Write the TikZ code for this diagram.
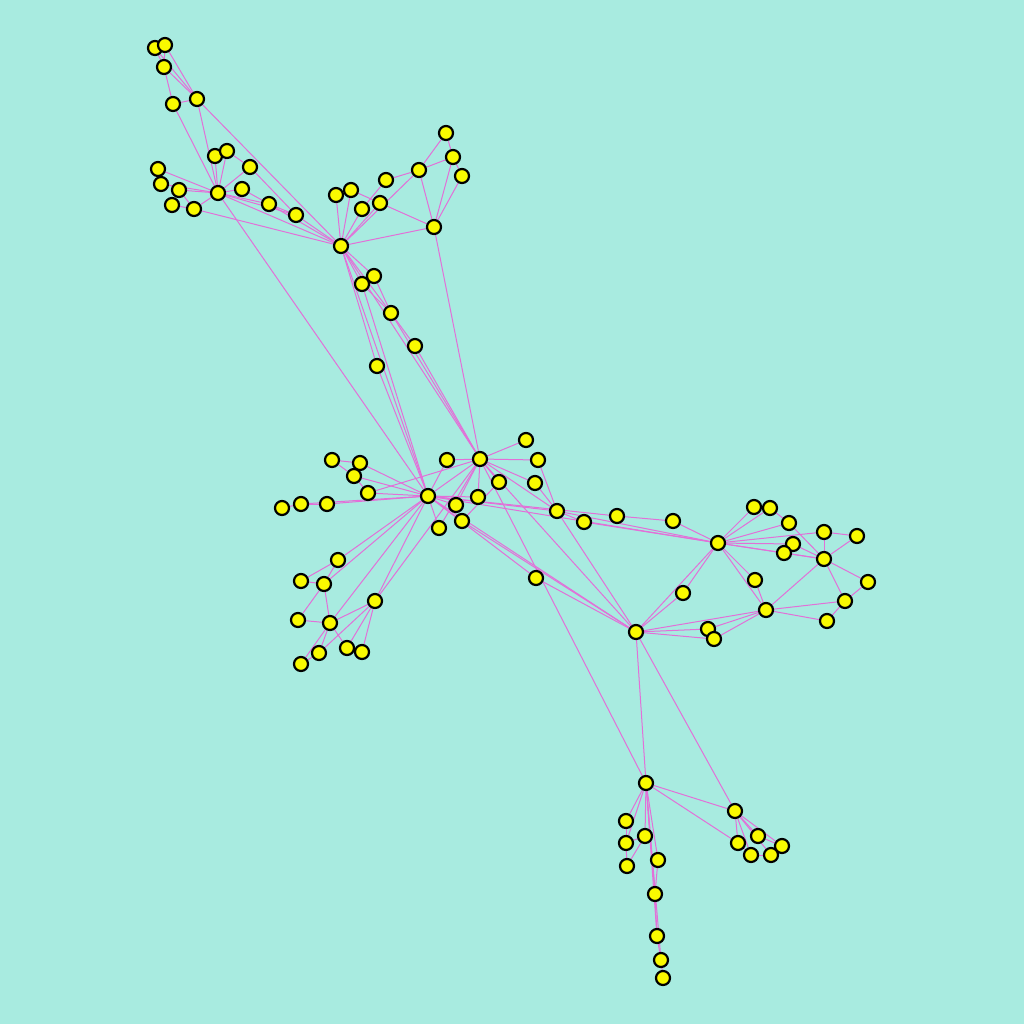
\documentclass[tikz,border=0pt]{standalone}
\usetikzlibrary{backgrounds}
\definecolor{bgc}{RGB}{168,235,224}
\definecolor{edgec}{RGB}{226,112,216}
\definecolor{nodec}{RGB}{250,250,0}
\begin{document}
\begin{tikzpicture}[x=0.5pt,y=-0.5pt,
  vtx/.style={circle,draw=black,line width=1.1pt,fill=nodec,minimum size=7pt,inner sep=0pt},
  edge/.style={draw=edgec,line width=0.5pt}]
\useasboundingbox (0,0) rectangle (1024,1024);
% nodes
\foreach \n/\x/\y in {
 n1/155/48, n2/165/45, n3/164/67, n4/173/104, n5/197/99,
 n6/215/156, n7/227/151, n8/250/167, n9/158/169, n10/161/184, n11/179/190, n12/218/193,
 n13/242/189, n14/172/205, n15/194/209, n16/269/204, n17/296/215,
 A/341/246, n18/336/195, n19/351/190, n20/362/209, n21/380/203, n22/386/180, n23/419/170,
 n24/446/133, n25/453/157, n26/462/176, n27/434/227,
 n28/374/276, n29/362/284, n30/391/313, n31/415/346, n32/377/366,
 B/428/496, C/480/459,
 n33/332/460, n34/360/463, n35/354/476, n36/368/493, n37/282/508, n38/301/504, n39/327/504,
 n40/447/460, n41/526/440, n42/538/460, n43/535/483, n44/499/482, n45/478/497, n46/456/505,
 n47/462/521, n48/439/528, n49/557/511, n50/584/522, n51/617/516, n52/673/521, n53/536/578,
 n54/338/560, n55/301/581, n56/324/584, n57/298/620, n58/330/623, n59/375/601, n60/319/653,
 n61/301/664, n62/347/648, n63/362/652,
 D/718/543, E/636/632,
 n64/754/507, n65/770/508, n66/789/523, n67/824/532, n68/857/536, n69/793/544, n70/784/553,
 n71/824/559, n72/755/580, n73/868/582, n74/683/593, n75/845/601, n76/766/610, n77/827/621,
 n78/708/629, n79/714/639,
 F/646/783, n80/735/811, n81/626/821, n82/645/836, n83/758/836, n84/626/843, n85/738/843,
 n86/782/846, n87/751/855, n88/771/855, n89/658/860, n90/627/866, n91/655/894, n92/657/936,
 n93/661/960, n94/663/978}
 {\node[vtx] (\n) at (\x,\y) {};}
\begin{scope}[on background layer]
\fill[bgc] (0,0) rectangle (1024,1024);
\foreach \a/\b in {
 n1/n3, n2/n3, n1/n5, n2/n5, n3/n5, n3/n4, n4/n5, n4/n12, n5/n12, n5/A,
 n6/n12, n7/n12, n6/n7, n7/n8, n8/n12, n8/n17, n9/n12, n10/n12, n11/n12, n11/n15, n14/n15,
 n15/n12, n15/A, n13/n12, n13/n16, n12/n16, n16/n17, n12/n17, n17/A, n12/A, n16/A, n12/B,
 n18/A, n19/A, n20/A, n21/A, n19/n21, n22/n20, n22/n23, n23/A, n23/n24, n23/n25, n24/n25,
 n25/n26, n25/n27, n26/n27, n23/n27, n21/n27, n27/A, n27/C,
 A/n28, A/n29, n28/n30, n29/n30, A/n30, n30/n31, A/n32, n32/B, A/B, n29/B, A/C, n30/C, n31/C,
 n33/n34, n33/n35, n34/B, n35/B, n35/n36, n36/B, n36/C, n37/n38, n38/B, n39/B, n38/n39,
 n40/B, n40/C, C/n41, C/n42, C/n43, C/n44, C/n45, C/n46, C/n48, B/C, n42/n49, n43/n49, C/n49,
 B/n45, B/n46, B/n47, B/n48, n44/n47, B/n49, B/n51, B/D, n49/D, n50/D, n51/n52, n52/D, n49/n50,
 C/E, C/F, n49/E, B/E, n47/E, B/n53, n53/E,
 n54/B, n54/n56, n55/n54, n55/n56, n56/B, n56/n57, n56/n58, n57/n58, n58/B, n58/n59, n58/n60,
 n58/n62, n61/n58, n60/n61, n59/n60, n59/n62, n59/n63, n59/B, n59/C,
 D/n64, D/n65, D/n66, D/n67, D/n69, D/n70, D/n71, n65/n66, n66/n71, n67/n68, n67/n71, n68/n71,
 n71/n73, n70/n71, n69/n71, n71/n76, n71/n75, n75/n73, n75/n76, n76/n77, n77/n75, D/n72,
 n72/n76, D/E, D/n74, n74/E, D/n76, n76/E, E/n78, E/n79, n76/n78, n76/n79,
 E/F, E/n80, F/n80, F/n85, n80/n85, n80/n83, n80/n87, n80/n88, n80/n86, n83/n86, n85/n87, n87/n88,
 F/n81, F/n84, n81/n84, n84/n90, n84/n82, n82/n90, F/n82, F/n89, F/n91, F/n92, n89/n91,
 n91/n92, n92/n93, n93/n94, F/n93}
 {\draw[edge] (\a) -- (\b);}
\end{scope}
\end{tikzpicture}
\end{document}
